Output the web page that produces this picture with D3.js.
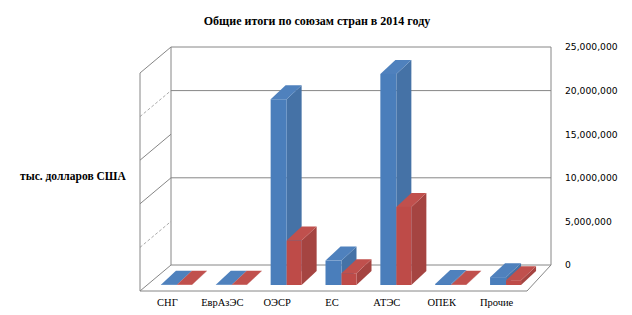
<!DOCTYPE html>
<html lang="ru">
<head>
	<meta charset="utf-8">
	<title>Общие итоги по союзам стран в 2014 году</title>
	<script src="https://d3js.org/d3.v7.min.js" charset="utf-8"></script>
	<style>
	body { margin: 0; background: #fff; }
	text { font-family: "Liberation Serif", "Times New Roman", serif; }
	</style>
</head>
<body>
	<script>
	// data (тыс. долларов США)
	var categories = ["СНГ", "ЕврАзЭС", "ОЭСР", "ЕС", "АТЭС", "ОПЕК", "Прочие"];
	var seriesA = [40000, 20000, 21300000, 2800000, 24200000, 120000, 900000];     // blue
	var seriesB = [25000, 15000, 5100000, 1350000, 8950000, 40000, 550000];        // red
	var tickValues = [0, 5000000, 10000000, 15000000, 20000000, 25000000];
	var backGrid = [10000000, 20000000, 25000000];
	var sideSolid = [10000000, 15000000, 25000000];

	var w = 632, h = 315;

	// 3d box layout
	var frontBase = 291, backBase = 265;
	var frontLeft = 140, frontRight = 527;
	var backLeft = 171, backRight = 551;
	var barBase = 285, dx = 15, dy = -14;

	var svg = d3.select("body").append("svg")
		.attr("width", w)
		.attr("height", h);

	var hScale = d3.scaleLinear().domain([0, 25000000]).range([0, 218]);
	var yBack = d3.scaleLinear().domain([0, 25000000]).range([backBase, backBase - 218]);
	var xScale = d3.scaleBand().domain(categories).range([140, 524]);

	var gridColor = "#868686";

	// floor
	svg.append("path")
		.attr("d", "M" + frontLeft + "," + frontBase + "L" + frontRight + "," + frontBase +
			"L" + backRight + "," + backBase + "L" + backLeft + "," + backBase)
		.attr("fill", "none")
		.attr("stroke", gridColor);

	// back wall gridlines
	svg.selectAll(".bgrid")
		.data(backGrid)
		.enter().append("line")
		.attr("x1", backLeft).attr("x2", backRight)
		.attr("y1", function(d){ return yBack(d); })
		.attr("y2", function(d){ return yBack(d); })
		.attr("stroke", gridColor);

	// back wall edges
	svg.append("line")
		.attr("x1", backLeft).attr("x2", backLeft)
		.attr("y1", yBack(25000000)).attr("y2", backBase)
		.attr("stroke", gridColor);
	svg.append("line")
		.attr("x1", backRight).attr("x2", backRight)
		.attr("y1", yBack(25000000)).attr("y2", backBase)
		.attr("stroke", gridColor);

	// left wall
	svg.append("line")
		.attr("x1", frontLeft).attr("x2", frontLeft)
		.attr("y1", frontBase - hScale(25000000)).attr("y2", frontBase)
		.attr("stroke", gridColor);
	svg.selectAll(".sgrid")
		.data(tickValues)
		.enter().append("line")
		.attr("x1", frontLeft).attr("x2", backLeft)
		.attr("y1", function(d){ return frontBase - hScale(d); })
		.attr("y2", function(d){ return yBack(d); })
		.attr("stroke", gridColor)
		.attr("stroke-dasharray", function(d){
			return (d === 0 || sideSolid.indexOf(d) >= 0) ? null : "3,2";
		})
		.attr("stroke-opacity", function(d){
			return (d === 0 || sideSolid.indexOf(d) >= 0) ? 1 : 0.7;
		});

	// bars
	var bars = [];
	categories.forEach(function(c, i){
		var cx = xScale(c) + xScale.bandwidth() / 2;
		bars.push({ x: cx - 6.5, w: 16, v: seriesA[i], front: "#4a7ebb", side: "#4572a6", top: "#4f81bd" });
		bars.push({ x: cx + 9.5, w: 15, v: seriesB[i], front: "#be4b48", side: "#a54441", top: "#c0504d" });
	});

	var g = svg.selectAll(".bar")
		.data(bars)
		.enter().append("g");

	g.append("path") // side
		.attr("d", function(d){
			var t = barBase - hScale(d.v), x = d.x + d.w;
			return "M" + x + "," + barBase + "L" + x + "," + t + "L" + (x + dx) + "," + (t + dy) +
				"L" + (x + dx) + "," + (barBase + dy) + "Z";
		})
		.attr("fill", function(d){ return d.side; });

	g.append("path") // top
		.attr("d", function(d){
			var t = barBase - hScale(d.v);
			return "M" + d.x + "," + t + "L" + (d.x + d.w) + "," + t + "L" + (d.x + d.w + dx) + "," + (t + dy) +
				"L" + (d.x + dx) + "," + (t + dy) + "Z";
		})
		.attr("fill", function(d){ return d.top; });

	g.append("rect") // front
		.attr("x", function(d){ return d.x; })
		.attr("y", function(d){ return barBase - hScale(d.v); })
		.attr("width", function(d){ return d.w; })
		.attr("height", function(d){ return hScale(d.v); })
		.attr("fill", function(d){ return d.front; });

	// right value axis
	var axis = svg.append("g")
		.attr("transform", "translate(" + backRight + ",0)")
		.call(d3.axisRight(yBack).tickValues(tickValues).tickSize(0).tickPadding(14)
			.tickFormat(d3.format(",")));
	axis.select(".domain").remove();
	axis.selectAll("text")
		.style("font-family", "'DejaVu Sans', sans-serif")
		.style("font-size", "9.2px")
		.attr("fill", "#000");

	// category labels
	svg.selectAll(".cat")
		.data(categories)
		.enter().append("text")
		.attr("x", function(d){ return xScale(d) + xScale.bandwidth() / 2; })
		.attr("y", 306)
		.attr("text-anchor", "middle")
		.attr("font-size", "10.5px")
		.text(function(d){ return d; });

	// title
	svg.append("text")
		.attr("x", 317)
		.attr("y", 25)
		.attr("text-anchor", "middle")
		.attr("font-size", "12px")
		.attr("font-weight", "bold")
		.text("Общие итоги по союзам стран в 2014 году");

	// y label
	svg.append("text")
		.attr("x", 20)
		.attr("y", 180)
		.attr("font-size", "11.5px")
		.attr("font-weight", "bold")
		.text("тыс. долларов США");
	</script>
</body>
</html>
